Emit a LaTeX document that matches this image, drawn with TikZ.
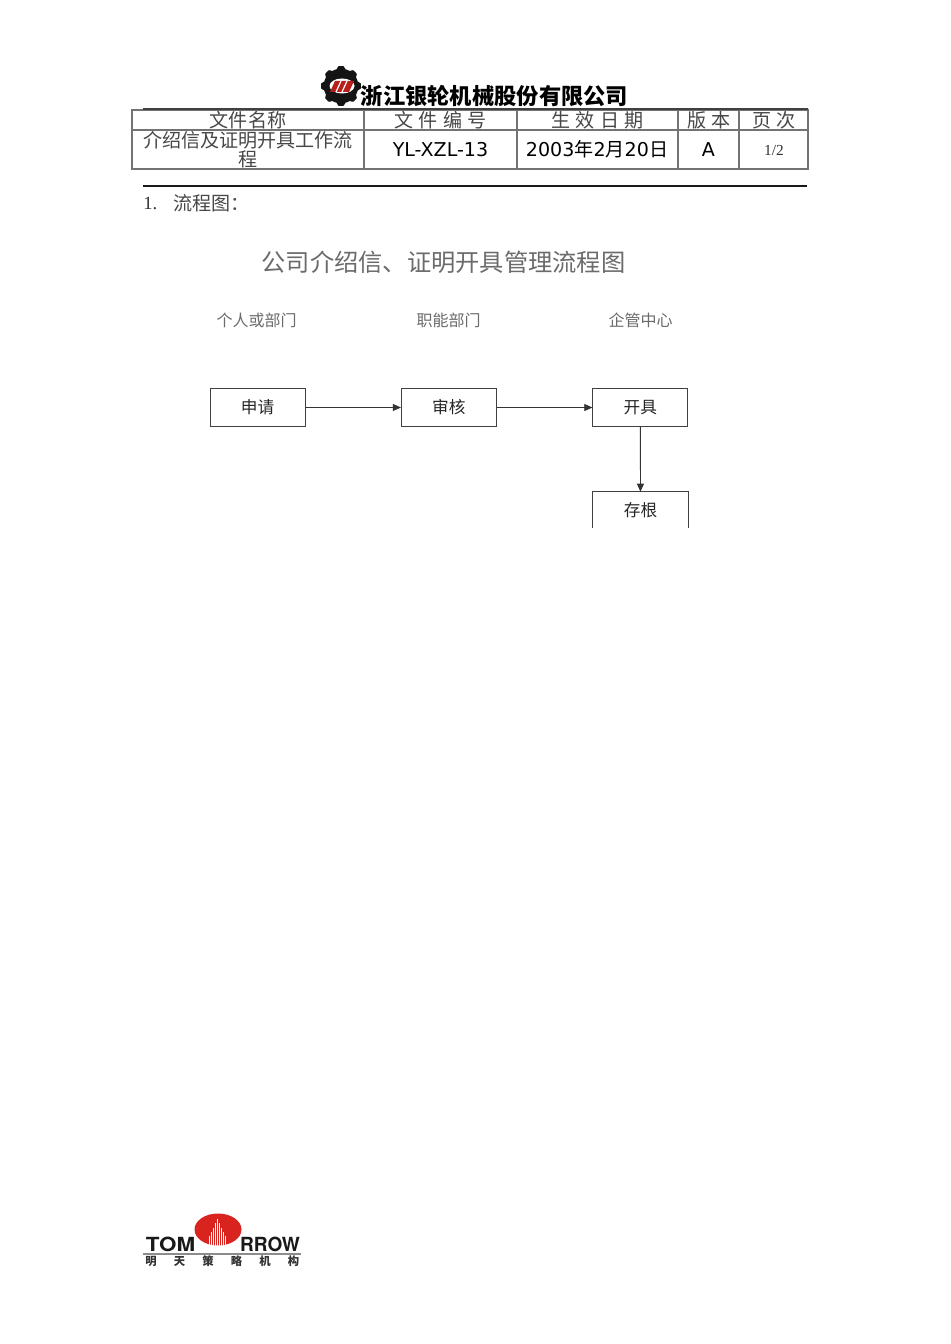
\documentclass[tikz,border=0pt]{standalone}
\usepackage{fontspec}
\setmainfont{DejaVu Sans}
\newfontfamily\cjk{Noto Sans CJK SC}
\newfontfamily\lat{DejaVu Sans}
\newfontfamily\ser{Liberation Serif}
\newfontfamily\heros{TeX Gyre Heros}
\usetikzlibrary{arrows.meta}
\definecolor{tline}{gray}{0.45}
\definecolor{lightt}{gray}{0.42}
\definecolor{redlogo}{HTML}{D9231F}
\tikzset{
 flowbox/.style={minimum width=71.2pt,minimum height=29pt,inner sep=0pt,font=\cjk\fontsize{12.5}{13}\selectfont,text=black!85},
 flowline/.style={draw=black!75,line width=0.6pt},
 flowarrow/.style={draw=black!80,line width=0.45pt,-{Triangle[length=6pt,width=5.2pt]}},
 cell/.style={inner sep=0pt,font=\cjk\fontsize{14.3}{14}\selectfont,text=black!72},
 cella/.style={inner sep=0pt,font=\lat\fontsize{14.3}{14}\selectfont,text=black},
 collabel/.style={inner sep=0pt,font=\cjk\fontsize{12}{12}\selectfont,text=lightt},
 tbl/.style={draw=tline,line width=0.85pt},
 logotext/.style={inner sep=0pt,anchor=base,font=\heros\bfseries\fontsize{14.6}{15}\selectfont,text=black!90},
}
\begin{document}
\begin{tikzpicture}[x=0.75pt,y=-0.75pt]
\useasboundingbox (0,0) rectangle (950,1344);
\fill[white] (0,0) rectangle (950,1344);
% gear logo
\fill[black!92,domain=0:360,samples=145,smooth] plot ({341+(18.6+min(1.3,max(-1.3,3*cos(8*\x))))*cos(\x)},{86+(18.6+min(1.3,max(-1.3,3*cos(8*\x))))*sin(\x)}) -- cycle;
\fill[white] (342,86) ellipse[x radius=12.5, y radius=7.5];
\fill[redlogo!85!black] (330,92) -- (335,81) -- (354,81) -- (349,92) -- cycle;
\draw[white,line width=0.9pt] (336,92) -- (341,81) (342,92) -- (347,81);
% header
\node[inner sep=0pt,font=\cjk\bfseries\fontsize{16.7}{17}\selectfont] (title) at (494.5,96) {浙江银轮机械股份有限公司};
\draw[tbl] (132,110) rectangle (808,169);
\draw[tbl] (132,130) -- (808,130);
\foreach \xx in {364,517,678,739} \draw[tbl] (\xx,110) -- (\xx,169);
\draw[draw=black!75,line width=1.1pt] (143,109.2) -- (808,109.2);
\node[cell] (h1) at (248,120) {文件名称};
\node[cell] (h2) at (440.5,120) {文\hspace{4pt}件\hspace{4pt}编\hspace{4pt}号};
\node[cell] (h3) at (597.5,120) {生\hspace{4pt}效\hspace{4pt}日\hspace{4pt}期};
\node[cell] (h4) at (709,120) {版\hspace{4pt}本};
\node[cell] (h5) at (774,120) {页\hspace{4pt}次};
\node[cell] (v1a) at (248,140) {介绍信及证明开具工作流};
\node[cell] (v1b) at (248,159) {程};
\node[cella] (v2) at (440.5,149.5) {YL-XZL-13};
\node[cella] (v3) at (597,149.5) {2003{\cjk 年}2{\cjk 月}20{\cjk 日}};
\node[cella] (v4) at (708.5,149.5) {A};
\node[inner sep=0pt,font=\ser\fontsize{11.5}{12}\selectfont,text=black!80] (v5) at (774,150.5) {1/2};
\draw[black!90,line width=0.8pt] (143,186) -- (807,186);
\node[inner sep=0pt,anchor=west,font=\ser\fontsize{14}{14}\selectfont,text=black!80] (num) at (143,203) {1.};
\node[cell,anchor=west] (sect) at (173,203) {流程图：};
% chart
\node[inner sep=0pt,font=\cjk\fontsize{18.2}{19}\selectfont,text=lightt] (chart) at (443.5,262) {公司介绍信、证明开具管理流程图};
\node[collabel] (c1) at (256.5,320.5) {个人或部门};
\node[collabel] (c2) at (448.5,320.5) {职能部门};
\node[collabel] (c3) at (640.5,320.5) {企管中心};
\node[flowbox,flowline] (a) at (257.5,407.5) {\raisebox{1.5pt}{申请}};
\node[flowbox,flowline] (b) at (448.8,407.5) {\raisebox{1.5pt}{审核}};
\node[flowbox,flowline] (c) at (640.3,407.5) {\raisebox{1.5pt}{开具}};
\node[flowbox,minimum height=27pt] (d) at (640.5,510) {存根};
\draw[flowline] (d.south west) -- (d.north west) -- (d.north east) -- (d.south east);
\draw[flowarrow] (a) -- (b);
\draw[flowarrow] (b) -- (c);
\draw[flowarrow,line width=0.65pt] (c) -- (d);
% bottom logo
\fill[redlogo] (218,1229.5) ellipse[x radius=23.5, y radius=16];
\foreach \xx/\yy in {209/1236,211/1232,213/1228,215/1223,217/1219,219/1223,221/1228,223/1232,225/1236}
  \draw[white,line width=0.6pt] (\xx,1246) -- (\xx,\yy);
\node[logotext] (tom) at (170.5,1251) {\scalebox{1.15}[1]{TOM}};
\node[logotext] (row) at (270,1251) {\scalebox{0.98}[1]{RROW}};
\draw[black!45,line width=1.4pt] (143,1254) -- (301,1254);
\foreach \t/\xx/\n in {明/151/l1,天/179.5/l2,策/208/l3,略/236.5/l4,机/265/l5,构/293.5/l6}
  \node[inner sep=0pt,font=\cjk\bfseries\fontsize{8.5}{9}\selectfont,text=black!80] (\n) at (\xx,1261) {\t};
\end{tikzpicture}
\end{document}
